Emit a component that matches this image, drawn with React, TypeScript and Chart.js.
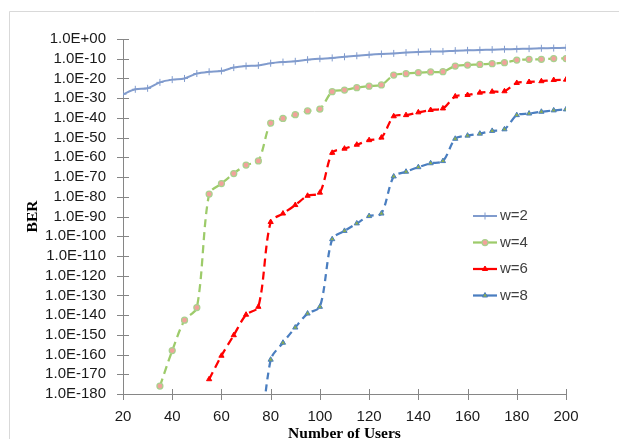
import React, { useEffect, useRef } from 'react';
import { Chart, registerables } from 'chart.js';
import { drawPoint } from 'chart.js/helpers';

Chart.register(...registerables);

// Number of users (x values)
const users = [
  20, 25, 30, 35, 40, 45, 50, 55, 60, 65, 70, 75, 80, 85, 90, 95, 100, 105, 110,
  115, 120, 125, 130, 135, 140, 145, 150, 155, 160, 165, 170, 175, 180, 185, 190, 195, 200,
];

// BER values given as the base-10 exponent (BER = 10^value)
const berW2 = [
  -28, -25.5, -25, -22, -20.6, -20, -17.5, -16.6, -16.2, -14.5, -13.7, -13.4, -12.3, -11.7, -11.3, -10.5, -10, -9.6, -9,
  -8.5, -8, -7.6, -7.3, -6.9, -6.6, -6.4, -6.3, -5.9, -5.75, -5.6, -5.4, -5.2, -5.1, -4.9, -4.7, -4.6, -4.4,
];
const berW4 = [
  null, null, null, -176, -158, -142.6, -136.2, -78.6, -73.3, -68.2, -63.9, -61.8, -42.6, -40.3, -38.4, -36.5, -35.5, -26.7, -25.9,
  -24.7, -23.9, -23.3, -18.3, -17.6, -17.1, -16.7, -16.6, -13.7, -13.2, -12.9, -12.5, -12, -10.7, -10.3, -10.3, -9.9, -9.9,
];
const berW6 = [
  null, null, null, null, null, null, null, -172.5, -160.6, -150.2, -139.8, -135.8, -92.8, -88.5, -84.2, -79.5, -77.9, -57.7, -55.6,
  -53.6, -51.3, -50, -39.2, -38.6, -37.2, -36, -35.2, -29.1, -28.4, -27.2, -26.7, -26.5, -22.3, -21.8, -21.4, -20.8, -20.6,
];
const berW8 = [
  null, null, null, null, null, null, null, null, null, null, null, -215, -162.6, -154, -146.3, -139.2, -135.8, -101.5, -97.3,
  -93.5, -89.8, -88.5, -69.7, -67.3, -65, -63, -61.9, -50.6, -49, -48, -46.6, -45.8, -38.6, -37.8, -36.9, -36.2, -35.7,
];

const seriesLabels = ['w=2', 'w=4', 'w=6', 'w=8'];

const formatBer = (v: number) => {
  if (v === 0) return '1.0E+00';
  const a = Math.abs(v);
  return '1.0E' + (v < 0 ? '-' : '+') + (a < 10 ? '0' + a : String(a));
};

const toPoints = (vals: (number | null)[]) =>
  users.map((u, i) => ({ x: u, y: vals[i] }));

const axisGray = '#868686';

const decorPlugin = {
  id: 'decor',
  beforeDraw(chart: any) {
    const ctx = chart.ctx;
    ctx.save();
    ctx.fillStyle = '#ffffff';
    ctx.fillRect(0, 0, chart.width, chart.height);
    ctx.strokeStyle = '#D9D9D9';
    ctx.lineWidth = 1;
    ctx.beginPath();
    ctx.moveTo(9.5, chart.height);
    ctx.lineTo(9.5, 11.5);
    ctx.lineTo(chart.width, 11.5);
    ctx.stroke();
    ctx.restore();
  },
  beforeDatasetsDraw(chart: any) {
    const ctx = chart.ctx;
    const area = chart.chartArea;
    const xs = chart.scales.x;
    const ys = chart.scales.y;
    ctx.save();
    ctx.strokeStyle = axisGray;
    ctx.lineWidth = 1;
    ctx.beginPath();
    ys.ticks.forEach((t: any) => {
      const py = Math.round(ys.getPixelForValue(t.value)) + 0.5;
      ctx.moveTo(area.left - 6, py);
      ctx.lineTo(area.left + 6, py);
    });
    xs.ticks.forEach((t: any) => {
      const px = Math.round(xs.getPixelForValue(t.value)) + 0.5;
      ctx.moveTo(px, area.bottom - 5);
      ctx.lineTo(px, area.bottom + 6);
    });
    ctx.stroke();
    ctx.restore();
  },
  afterDraw(chart: any) {
    const ctx = chart.ctx;
    ctx.save();
    chart.data.datasets.forEach((ds: any, i: number) => {
      const cy = 216 + i * 26.5;
      ctx.setLineDash([]);
      ctx.strokeStyle = ds.borderColor;
      ctx.lineWidth = ds.borderWidth;
      ctx.beginPath();
      ctx.moveTo(473, cy);
      ctx.lineTo(497, cy);
      ctx.stroke();
      ctx.fillStyle = ds.pointBackgroundColor;
      ctx.strokeStyle = ds.pointBorderColor;
      ctx.lineWidth = ds.pointBorderWidth;
      drawPoint(
        ctx,
        { pointStyle: ds.pointStyle, radius: ds.pointRadius, rotation: 0, borderWidth: ds.pointBorderWidth } as any,
        485,
        cy,
      );
      ctx.fillStyle = '#404040';
      ctx.font = '15px "Liberation Sans", Arial, sans-serif';
      ctx.textAlign = 'left';
      ctx.textBaseline = 'middle';
      ctx.fillText(ds.label, 500, cy);
    });
    ctx.restore();
  },
};

export default function App() {
  const canvasRef = useRef<HTMLCanvasElement | null>(null);

  useEffect(() => {
    if (!canvasRef.current) return;
    const tickFont = { family: '"Liberation Sans", Arial, sans-serif', size: 15 };
    const titleFont = { family: '"Liberation Serif", "Times New Roman", serif', size: 15.5, weight: 'bold' as const, lineHeight: 1 };
    const chart = new Chart(canvasRef.current, {
      type: 'line',
      data: {
        datasets: [
          {
            label: seriesLabels[0],
            data: toPoints(berW2),
            borderColor: '#809BCD',
            backgroundColor: '#809BCD',
            borderWidth: 2,
            pointStyle: 'cross',
            pointRadius: 3.5,
            pointBorderWidth: 1,
            pointBackgroundColor: '#809BCD',
            pointBorderColor: '#809BCD',
            tension: 0.3,
          },
          {
            label: seriesLabels[1],
            data: toPoints(berW4),
            borderColor: '#9DCB6A',
            backgroundColor: '#9DCB6A',
            borderWidth: 2.25,
            borderDash: [8, 5],
            pointStyle: 'circle',
            pointRadius: 3,
            pointBorderWidth: 1.25,
            pointBackgroundColor: '#F2A19B',
            pointBorderColor: '#A9D18E',
            tension: 0.3,
          },
          {
            label: seriesLabels[2],
            data: toPoints(berW6),
            borderColor: '#FF0000',
            backgroundColor: '#FF0000',
            borderWidth: 2.25,
            borderDash: [8, 5],
            pointStyle: 'triangle',
            pointRadius: 3,
            pointBorderWidth: 1,
            pointBackgroundColor: '#FF0000',
            pointBorderColor: '#FF0000',
            tension: 0.3,
          },
          {
            label: seriesLabels[3],
            data: toPoints(berW8),
            borderColor: '#4A7EC0',
            backgroundColor: '#4A7EC0',
            borderWidth: 2.25,
            borderDash: [7, 5],
            pointStyle: 'triangle',
            pointRadius: 3,
            pointBorderWidth: 1,
            pointBackgroundColor: '#8DB04A',
            pointBorderColor: '#4A7EC0',
            tension: 0.3,
          },
        ],
      },
      options: {
        responsive: false,
        maintainAspectRatio: false,
        animation: false,
        devicePixelRatio: 1,
        layout: { padding: { top: 39, right: 53, bottom: 0, left: 0 } },
        plugins: {
          legend: { display: false },
          tooltip: { enabled: false },
        },
        scales: {
          x: {
            type: 'linear',
            min: 20,
            max: 200,
            grid: { display: false, drawTicks: false },
            border: { display: true, color: axisGray, width: 1 },
            ticks: {
              stepSize: 20,
              padding: 14,
              autoSkip: false,
              maxRotation: 0,
              font: tickFont,
              color: '#1a1a1a',
            },
            title: {
              display: true,
              text: 'Number of Users',
              font: titleFont,
              color: '#000',
              padding: { top: 0, bottom: -3 },
            },
            afterFit(s: any) {
              s.height = 45;
            },
          },
          y: {
            type: 'linear',
            min: -180,
            max: 0,
            grid: { display: false, drawTicks: false },
            border: { display: true, color: axisGray, width: 1 },
            ticks: {
              stepSize: 10,
              padding: 17,
              autoSkip: false,
              font: tickFont,
              color: '#1a1a1a',
              callback: (v: any) => formatBer(Number(v)),
            },
            title: {
              display: true,
              text: 'BER',
              font: titleFont,
              color: '#000',
              padding: { top: 25, bottom: 0 },
            },
            afterFit(s: any) {
              s.width = 123;
            },
          },
        },
      },
      plugins: [decorPlugin],
    } as any);
    return () => chart.destroy();
  }, []);

  return (
    <div style={{ position: 'fixed', left: 0, top: 0, width: 619, height: 439, background: '#fff', overflow: 'hidden' }}>
      <canvas ref={canvasRef} width={619} height={439} style={{ display: 'block', width: 619, height: 439 }} />
    </div>
  );
}
